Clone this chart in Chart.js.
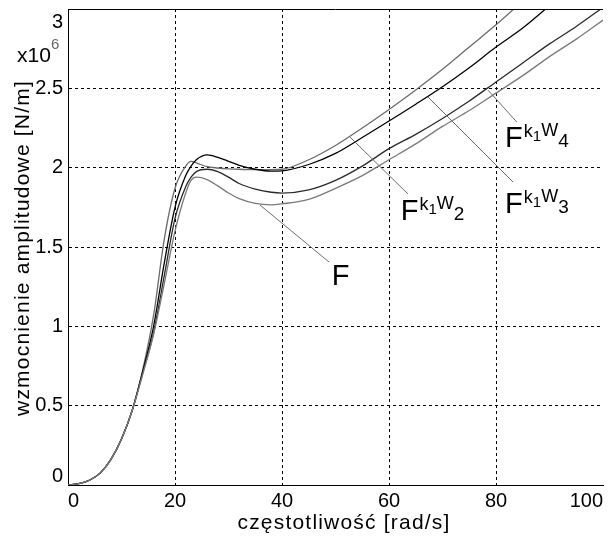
<!DOCTYPE html>
<html>
<head>
<meta charset="utf-8">
<script src="https://cdn.jsdelivr.net/npm/chart.js@4.4.1/dist/chart.umd.min.js"></script>
<style>
  html, body { margin: 0; padding: 0; background: #fff; }
  canvas { display: block; }
</style>
</head>
<body>
<canvas id="chart" width="610" height="537"></canvas>
<script>
// ------------ Données (x10^6 N/m) ------------
const FREQ = [0,2,4,6,8,10,12,14,16,18,20,22,23,24,26,28,30,32,35,38,40,45,50,55,60,65,70,75,80,85,90,95,100];

const AMP_K1W2 = [0,0.008,0.03,0.075,0.16,0.29,0.47,0.73,1.07,1.55,1.87,2.01,2.04,2.03,2.006,1.998,1.993,1.99,1.988,1.988,1.99,2.05,2.14,2.25,2.367,2.49,2.62,2.76,2.9,3.05,3.2,3.35,3.5];
const AMP_K1W3 = [0,0.008,0.03,0.075,0.16,0.29,0.47,0.72,1.0,1.4,1.75,1.95,2.01,2.05,2.08,2.065,2.04,2.015,1.99,1.978,1.98,2.02,2.09,2.19,2.294,2.4,2.51,2.63,2.76,2.88,3.02,3.15,3.3];
const AMP_K1W4 = [0,0.008,0.03,0.075,0.16,0.29,0.47,0.71,0.96,1.32,1.68,1.88,1.94,1.975,1.99,1.975,1.94,1.9,1.865,1.845,1.84,1.86,1.92,2.01,2.12,2.21,2.31,2.42,2.54,2.66,2.78,2.89,3.01];
const AMP_F    = [0,0.008,0.03,0.075,0.16,0.29,0.47,0.70,0.95,1.27,1.6,1.84,1.92,1.94,1.925,1.885,1.84,1.805,1.775,1.766,1.772,1.8,1.87,1.95,2.05,2.15,2.26,2.36,2.47,2.58,2.70,2.81,2.93];

const X_TICKS = [0,20,40,60,80,100];
const Y_TICKS = ["0","0.5","1","1.5","2","2.5","3"];

// opisy krzywych: indeks dolny (null = samo F), punkt na krzywej, punkt napisu
const LABEL_SUB   = [null, "2", "3", "4"];
const LABEL_POINT = [[35.9,1.764],[52.7,2.193],[67.3,2.445],[78.5,2.489]];
const LABEL_LEAD  = [[48.8,1.405],[63.55,1.834],[83.2,1.909],[83.9,2.287]];
const LABEL_TEXT  = [[49.3,1.26],[62.2,1.67],[81.7,1.714],[81.7,2.13]];

const FONT = '"Liberation Sans", Arial, sans-serif';

function pts(ys){ return FREQ.map((x,i)=>({x, y: ys[i]})); }

// ------------ Plugins ------------
const whiteBg = {
  id: "whiteBg",
  beforeDraw(chart){
    const c = chart.ctx;
    c.save(); c.fillStyle = "#fff"; c.fillRect(0,0,chart.width,chart.height); c.restore();
  }
};

const matlabAxes = {
  id: "matlabAxes",
  afterDraw(chart){
    const c = chart.ctx, a = chart.chartArea;
    const xs = chart.scales.x, ys = chart.scales.y;
    c.save();
    // top border
    c.strokeStyle = "#000"; c.lineWidth = 1;
    c.beginPath(); c.moveTo(a.left, Math.round(a.top)+0.5); c.lineTo(a.right, Math.round(a.top)+0.5); c.stroke();

    c.fillStyle = "#000";
    c.font = "20px " + FONT;
    // y tick labels
    c.textAlign = "right";
    Y_TICKS.forEach(t => {
      const v = parseFloat(t);
      const py = ys.getPixelForValue(v);
      if (v === 0) { c.textBaseline = "alphabetic"; c.fillText(t, a.left-5, py-3); }
      else if (v === 3) { c.textBaseline = "top"; c.fillText(t, a.left-5, py+3); }
      else { c.textBaseline = "middle"; c.fillText(t, a.left-5, py); }
    });
    // x tick labels
    c.textBaseline = "top";
    X_TICKS.forEach((v,i) => {
      const px = xs.getPixelForValue(v);
      c.textAlign = i === 0 ? "left" : (i === X_TICKS.length-1 ? "right" : "center");
      c.fillText(String(v), px, a.bottom+6);
    });
    // multiplier
    c.textAlign = "left"; c.textBaseline = "alphabetic";
    c.font = "21px " + FONT;
    c.fillText("x10", 17, 62);
    c.fillStyle = "#666";
    c.font = "15px " + FONT;
    c.fillText("6", 51, 49);

    // axis titles
    c.fillStyle = "#000";
    c.font = "21px " + FONT;
    c.letterSpacing = "1.2px";
    c.textAlign = "center"; c.textBaseline = "alphabetic";
    c.fillText("częstotliwość [rad/s]", 344, 529);
    c.save();
    c.translate(29, 248); c.rotate(-Math.PI/2);
    c.fillText("wzmocnienie amplitudowe [N/m]", 0, 0);
    c.restore();
    c.letterSpacing = "0px";

    // curve labels with leader lines
    LABEL_SUB.forEach((sub,i) => {
      const p0 = LABEL_POINT[i], p1 = LABEL_LEAD[i], t = LABEL_TEXT[i];
      c.strokeStyle = "#6e6e6e"; c.lineWidth = 1;
      c.beginPath();
      c.moveTo(xs.getPixelForValue(p1[0]), ys.getPixelForValue(p1[1]));
      c.lineTo(xs.getPixelForValue(p0[0]), ys.getPixelForValue(p0[1]));
      c.stroke();
      let tx = xs.getPixelForValue(t[0]);
      const ty = ys.getPixelForValue(t[1]);
      c.fillStyle = "#000"; c.textAlign = "left"; c.textBaseline = "alphabetic";
      c.font = "29px " + FONT;
      c.fillText("F", tx, ty);
      if (!sub) return;
      tx += c.measureText("F").width + 1;
      c.font = "18px " + FONT;
      c.fillText("k", tx, ty-10); tx += c.measureText("k").width;
      c.font = "15px " + FONT;
      c.fillText("1", tx, ty-6); tx += c.measureText("1").width;
      c.font = "18px " + FONT;
      c.fillText("W", tx, ty-11); tx += c.measureText("W").width;
      c.font = "19px " + FONT;
      c.fillText(sub, tx, ty);
    });
    c.restore();
  }
};

// ------------ Chart ------------
const ctx = document.getElementById("chart").getContext("2d");
const line = (data, color) => ({
  data: pts(data), borderColor: color, borderWidth: 1.3,
  pointRadius: 0, cubicInterpolationMode: "monotone", fill: false
});

new Chart(ctx, {
  type: "line",
  data: {
    datasets: [
      line(AMP_F,    "#7a7a7a"),
      line(AMP_K1W4, "#2a2a2a"),
      line(AMP_K1W3, "#000000"),
      line(AMP_K1W2, "#6a6a6a")
    ]
  },
  options: {
    responsive: false,
    animation: false,
    layout: { padding: { left: 68, right: 7, top: 9, bottom: 52 } },
    plugins: { legend: { display: false }, tooltip: { enabled: false } },
    scales: {
      x: {
        type: "linear", min: 0, max: 100,
        ticks: { stepSize: 20, display: false },
        grid: {
          drawTicks: false,
          color: (c) => (c.tick && c.tick.value > 0 && c.tick.value < 100) ? "#000" : "rgba(0,0,0,0)",
          lineWidth: 1
        },
        border: { display: true, color: "#000", width: 1, dash: [3,3] }
      },
      y: {
        min: 0, max: 3,
        ticks: { stepSize: 0.5, display: false },
        grid: {
          drawTicks: false,
          color: (c) => (c.tick && c.tick.value > 0 && c.tick.value < 3) ? "#000" : "rgba(0,0,0,0)",
          lineWidth: 1
        },
        border: { display: true, color: "#000", width: 1, dash: [3,3] }
      }
    }
  },
  plugins: [whiteBg, matlabAxes]
});
</script>
</body>
</html>
